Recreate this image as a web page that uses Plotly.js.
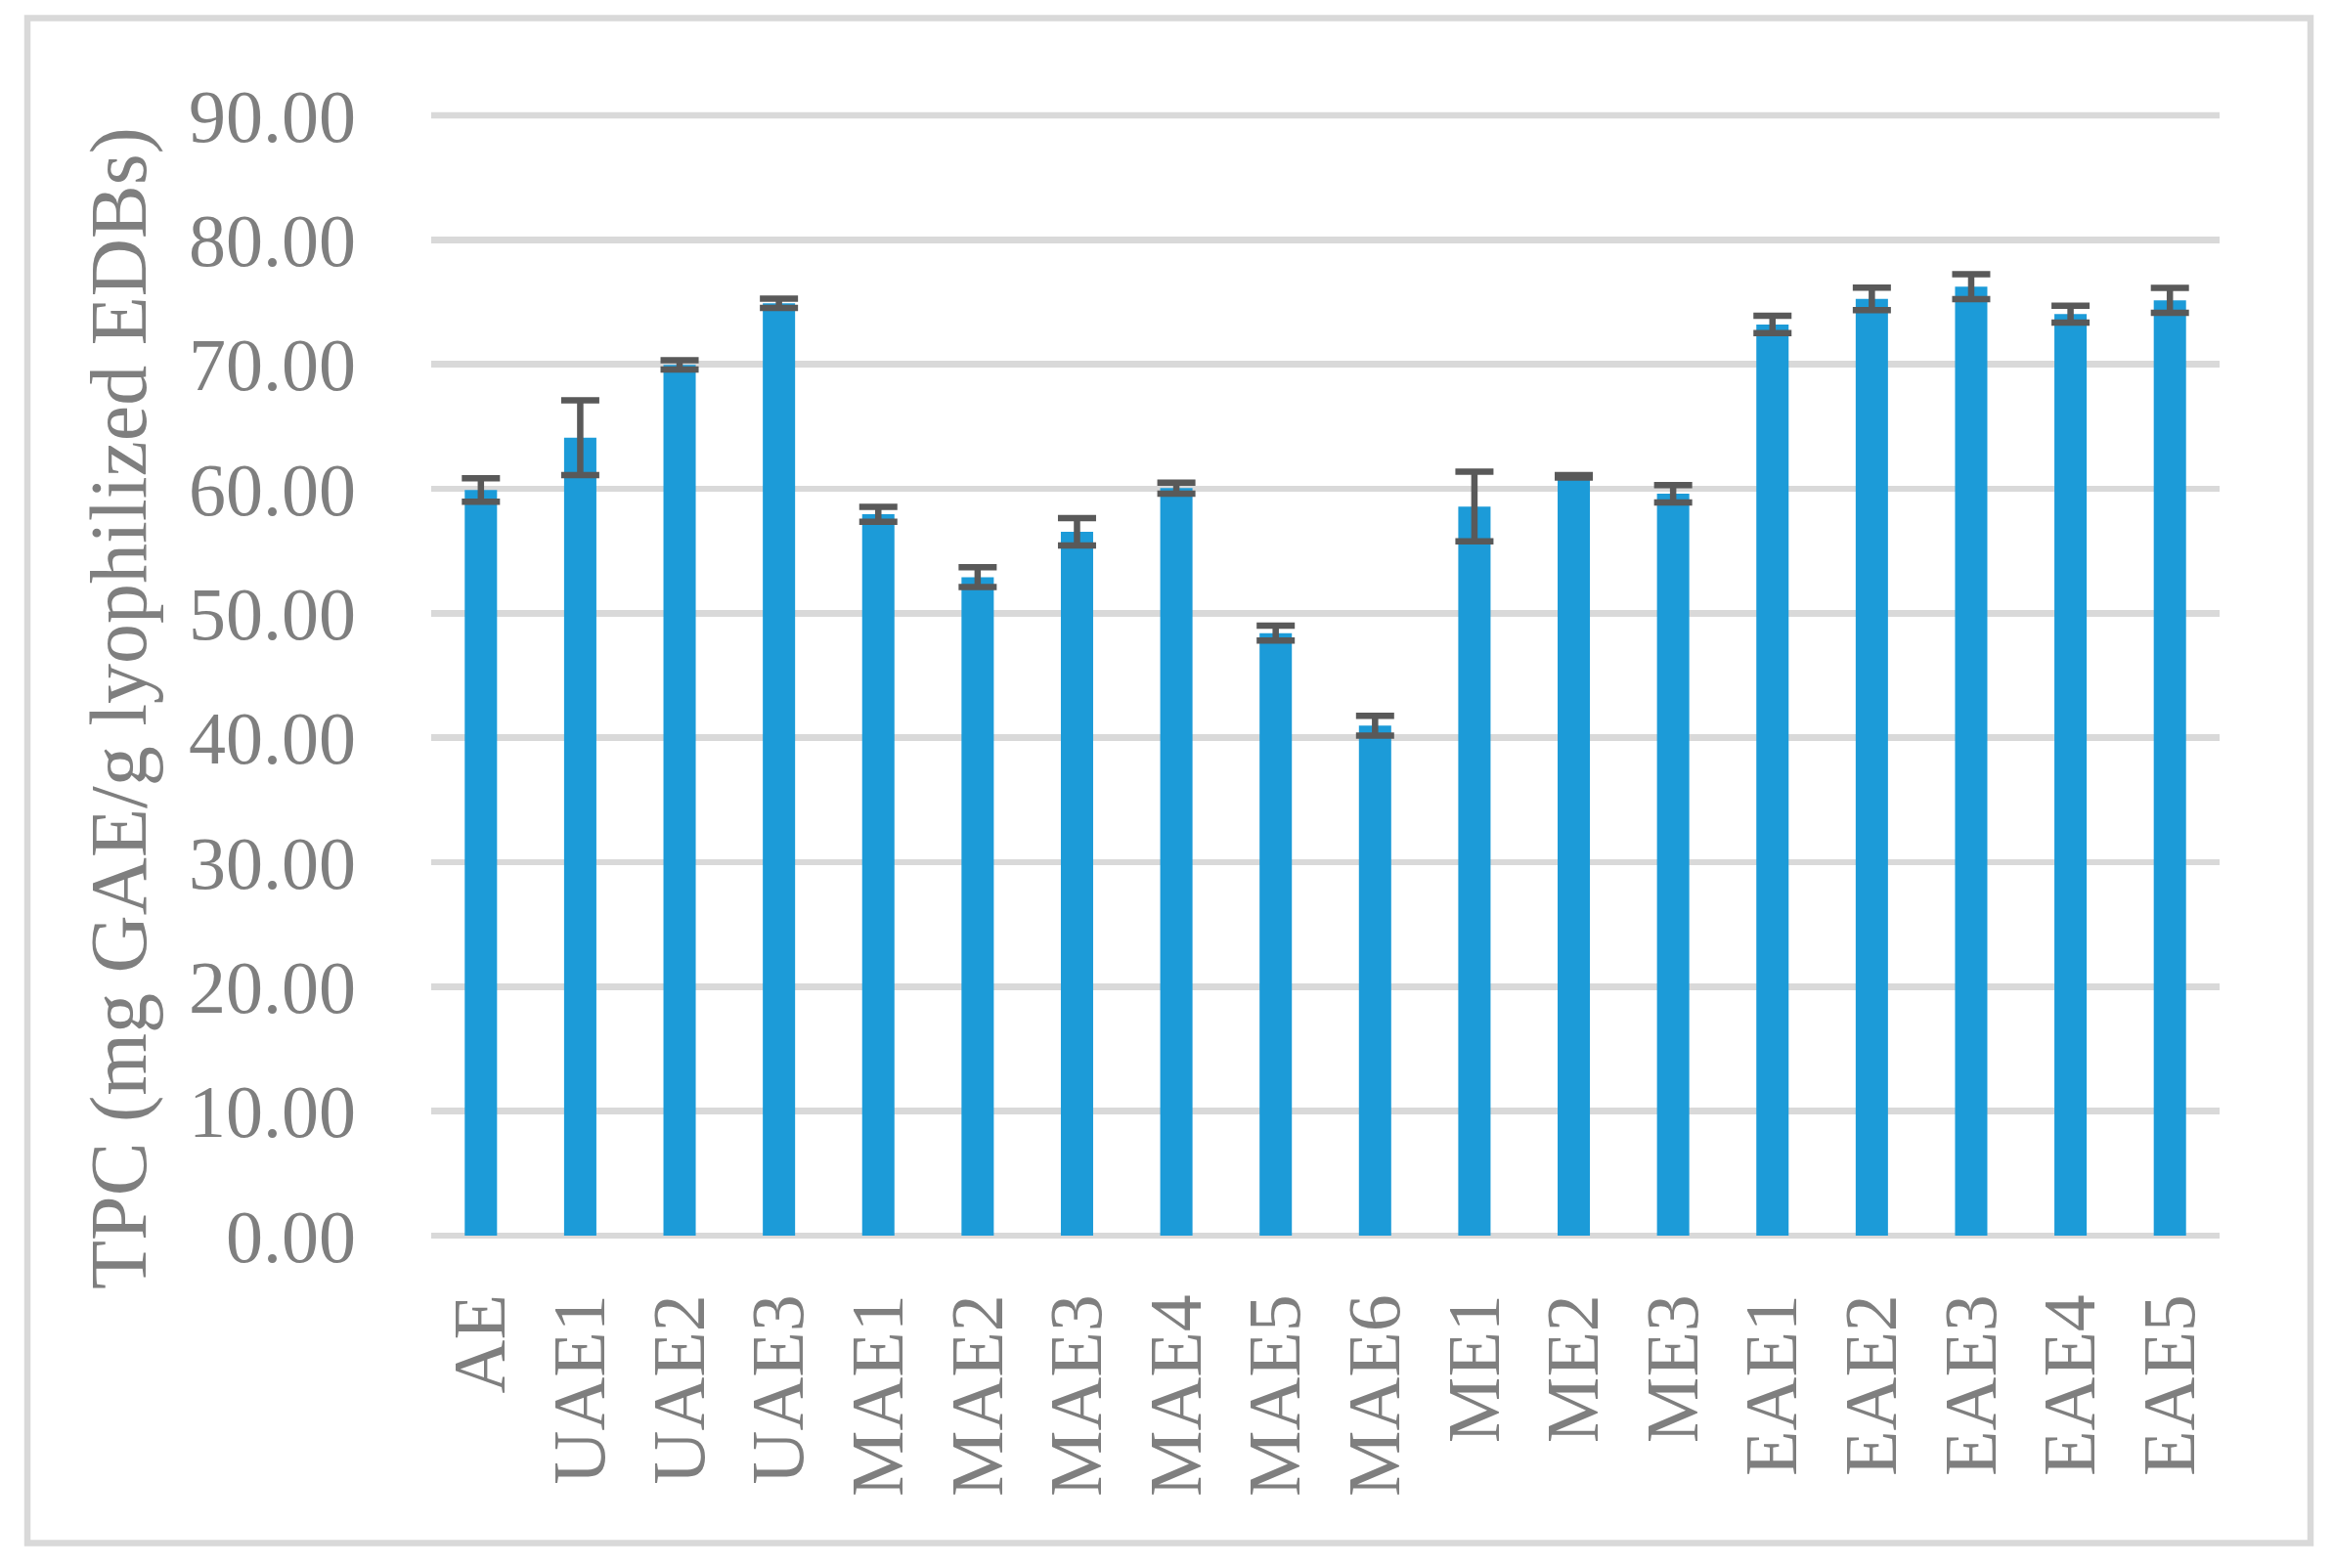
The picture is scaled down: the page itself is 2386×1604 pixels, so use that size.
<!DOCTYPE html>
<html>
<head>
<meta charset="utf-8">
<script src="https://cdn.plot.ly/plotly-3.0.1.min.js"></script>
<style>
  html, body { margin: 0; padding: 0; background: #ffffff; }
  #chart { width: 2386px; height: 1604px; }
</style>
</head>
<body>
<div id="chart"></div>
<script>
// Categories (x-axis)
const categories = ["AE", "UAE1", "UAE2", "UAE3", "MAE1", "MAE2", "MAE3", "MAE4", "MAE5", "MAE6",
                    "ME1", "ME2", "ME3", "EAE1", "EAE2", "EAE3", "EAE4", "EAE5"];
// TPC values (mg GAE/g lyophilized EDBs)
const tpcValues = [59.9, 64.1, 69.95, 74.9, 57.95, 52.9, 56.55, 60.05, 48.4, 40.97,
                   58.57, 61.0, 59.6, 73.2, 75.26, 76.23, 74.03, 75.13];
// Error bar (standard deviation)
const tpcErrors = [0.95, 3.0, 0.37, 0.38, 0.6, 0.8, 1.1, 0.45, 0.6, 0.8,
                   2.8, 0.1, 0.7, 0.7, 0.9, 1.0, 0.68, 1.0];
// Y tick values
const yTicks = [0, 10, 20, 30, 40, 50, 60, 70, 80, 90];
const yMax = 90;
const yTitle = "TPC (mg GAE/g lyophilized EDBs)";

const W = 2386, H = 1604;
const m = { l: 441, r: 116, t: 118, b: 340 };
const pw = W - m.l - m.r, ph = H - m.t - m.b;
const px2x = v => (v - m.l) / pw;
const py2y = v => (H - m.b - v) / ph;

const fontFam = '"Liberation Serif", "Times New Roman", serif';
const grey = '#7F7F7F';
const gridCol = '#D9D9D9';

const trace = {
  type: 'bar',
  x: categories,
  y: tpcValues,
  marker: { color: '#1C9BD8', line: { width: 0 } },
  error_y: {
    type: 'data',
    array: tpcErrors,
    visible: true,
    color: '#595959',
    thickness: 6.5,
    width: 19.5
  },
  hoverinfo: 'x+y'
};

const layout = {
  width: W,
  height: H,
  margin: m,
  paper_bgcolor: '#ffffff',
  plot_bgcolor: '#ffffff',
  showlegend: false,
  bargap: 0.675,
  font: { family: fontFam, color: grey, size: 76 },
  xaxis: {
    type: 'category',
    tickangle: -90,
    tickfont: { family: fontFam, size: 76, color: grey },
    showgrid: false,
    showline: false,
    ticks: '',
    ticklabelstandoff: 44,
    zeroline: false
  },
  yaxis: {
    range: [0, yMax],
    tickvals: yTicks,
    tickformat: '.2f',
    tickfont: { family: fontFam, size: 76, color: grey },
    showgrid: true,
    gridcolor: gridCol,
    gridwidth: 6.5,
    zeroline: true,
    zerolinecolor: gridCol,
    zerolinewidth: 6.5,
    showline: false,
    ticks: '',
    ticklabelstandoff: 76
  },
  annotations: [{
    text: yTitle,
    xref: 'paper', yref: 'paper',
    x: px2x(122), y: py2y(725),
    xanchor: 'center', yanchor: 'middle',
    textangle: -90,
    showarrow: false,
    font: { family: fontFam, size: 82, color: grey }
  }],
  shapes: [
    {
      // top gridline at the axis maximum (top edge of the plot area = yMax)
      type: 'line',
      xref: 'paper', yref: 'paper',
      x0: 0, x1: 1, y0: 1, y1: 1,
      line: { color: gridCol, width: 6.5 },
      layer: 'below'
    },
    {
      type: 'rect',
      xref: 'paper', yref: 'paper',
      x0: px2x(28), x1: px2x(2363),
      y0: py2y(1578.5), y1: py2y(18.5),
      line: { color: gridCol, width: 6.5 },
      fillcolor: 'rgba(0,0,0,0)',
      layer: 'below'
    }
  ]
};

Plotly.newPlot('chart', [trace], layout, { displayModeBar: false, staticPlot: true });
</script>
</body>
</html>
